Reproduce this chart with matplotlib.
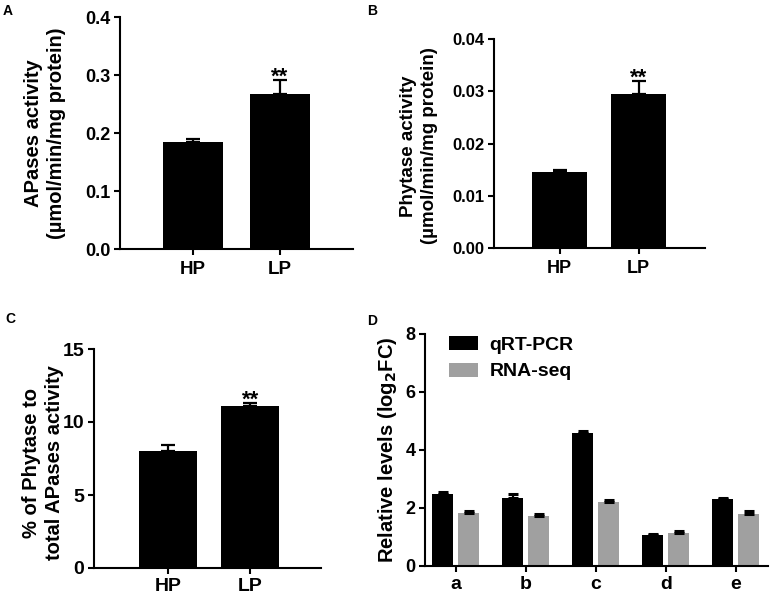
import matplotlib
matplotlib.use("Agg")
import matplotlib.pyplot as plt
from matplotlib.patches import Patch
import numpy as np

plt.rcParams['font.family'] = ['Liberation Sans', 'DejaVu Sans']
plt.rcParams['font.weight'] = 'bold'
plt.rcParams['axes.labelweight'] = 'bold'

# ---- data ----
groups = ["HP", "LP"]
apases = [0.185, 0.267]
apases_err = [0.004, 0.024]
phytase = [0.0146, 0.0294]
phytase_err = [0.0003, 0.0025]
ratio = [8.0, 11.13]
ratio_err = [0.4, 0.15]

genes = ["a", "b", "c", "d", "e"]
qrt = [2.50, 2.36, 4.60, 1.07, 2.32]
qrt_err = [0.06, 0.13, 0.05, 0.03, 0.04]
rnaseq = [1.83, 1.74, 2.21, 1.15, 1.80]
rnaseq_err = [0.06, 0.04, 0.08, 0.05, 0.08]

W, H = 770, 595
fig = plt.figure(figsize=(7.7, 5.95), dpi=100)

def rect(l, t, r, b):
    return [l / W, 1 - b / H, (r - l) / W, (b - t) / H]

def style(ax, tick_fs, lw=1.5):
    for s in ['top', 'right']:
        ax.spines[s].set_visible(False)
    for s in ['left', 'bottom']:
        ax.spines[s].set_linewidth(lw)
    ax.tick_params(axis='both', direction='out', width=lw, length=4.5, labelsize=tick_fs, pad=2.5)
    for lab in ax.get_xticklabels() + ax.get_yticklabels():
        lab.set_fontweight('bold')

def two_bar(ax, vals, errs, ylim, yticks, yfmt, xlim, tick_fs, xtick_fs, star_fs, xpad=4):
    x = np.arange(len(groups))
    ax.bar(x, vals, width=0.7, color='black', zorder=2)
    ax.errorbar(x, vals, yerr=[np.zeros(len(vals)), errs], fmt='none', ecolor='black',
                elinewidth=1.6, capsize=5, capthick=1.6, zorder=3)
    ax.set_xlim(*xlim)
    ax.set_ylim(*ylim)
    ax.set_yticks(yticks)
    ax.set_yticklabels([yfmt.format(v) for v in yticks])
    ax.set_xticks(x)
    ax.set_xticklabels(groups)
    style(ax, tick_fs)
    ax.tick_params(axis='x', labelsize=xtick_fs, pad=xpad)
    ax.annotate('**', xy=(x[1], vals[1] + errs[1]), xytext=(0, -1.5), textcoords='offset points',
                ha='center', va='baseline', fontsize=star_fs, fontweight='bold')

# Panel A
axA = fig.add_axes(rect(120, 17, 353, 249))
two_bar(axA, apases, apases_err, (0, 0.4), [0.0, 0.1, 0.2, 0.3, 0.4], "{:.1f}",
        (-0.84, 1.84), 13, 13.5, 16)
fig.text(45 / W, 1 - 133 / H, "APases activity\n(\u00b5mol/min/mg protein)", rotation=90,
         ha='center', va='center', fontsize=14.5, fontweight='bold', linespacing=1.25)

# Panel B
axB = fig.add_axes(rect(494, 39, 705, 248))
two_bar(axB, phytase, phytase_err, (0, 0.04), [0.0, 0.01, 0.02, 0.03, 0.04], "{:.2f}",
        (-0.83, 1.84), 12, 13, 16)
fig.text(419 / W, 1 - 146 / H, "Phytase activity\n(\u00b5mol/min/mg protein)", rotation=90,
         ha='center', va='center', fontsize=13.5, fontweight='bold', linespacing=1.25)

# Panel C
axC = fig.add_axes(rect(94, 349, 321, 568))
two_bar(axC, ratio, ratio_err, (0, 15), [0, 5, 10, 15], "{:.0f}",
        (-0.9, 1.86), 14, 14, 16, xpad=2.5)
fig.text(43 / W, 1 - 463 / H, "% of Phytase to\ntotal APases activity", rotation=90,
         ha='center', va='center', fontsize=14.5, fontweight='bold', linespacing=1.25)

# Panel D
axD = fig.add_axes(rect(425, 334, 768, 566))
xg = np.arange(len(genes))
bw = 0.295
off = 0.186
axD.bar(xg - off, qrt, width=bw, color='black', zorder=2)
axD.bar(xg + off, rnaseq, width=bw, color='#a0a0a0', zorder=2)
axD.errorbar(xg - off, qrt, yerr=[np.zeros(len(qrt)), qrt_err], fmt='none', ecolor='black',
             elinewidth=1.6, capsize=3.5, capthick=2.2, zorder=3)
axD.errorbar(xg + off, rnaseq, yerr=[np.zeros(len(rnaseq)), rnaseq_err], fmt='none', ecolor='black',
             elinewidth=1.6, capsize=3.5, capthick=2.2, zorder=3)
axD.set_xlim(-0.44, 4.46)
axD.set_ylim(0, 8)
axD.set_yticks([0, 2, 4, 6, 8])
axD.set_xticks(xg)
axD.set_xticklabels(genes)
style(axD, 13)
axD.tick_params(axis='x', labelsize=14, pad=3)
fig.text(388 / W, 1 - 450 / H, "Relative levels (log$_\\mathbf{2}$FC)", rotation=90,
         ha='center', va='center', fontsize=14.5, fontweight='bold')
handles = [Patch(facecolor='black', edgecolor='none', label='qRT-PCR'),
           Patch(facecolor='#a0a0a0', edgecolor='none', label='RNA-seq')]
leg = axD.legend(handles=handles, loc='upper left', bbox_to_anchor=(0.063, 1.0), frameon=False,
                 borderaxespad=0, borderpad=0.1, handlelength=1.5, handleheight=0.75,
                 handletextpad=0.6, labelspacing=0.45, prop={'size': 14, 'weight': 'bold'})

# Panel letters
for letter, px, py in [("A", 3, 4), ("B", 367, 4), ("C", 5, 312), ("D", 367, 314)]:
    fig.text(px / W, 1 - py / H, letter, ha='left', va='top', fontsize=10, fontweight='bold')

fig.savefig("out.png", dpi=100)
